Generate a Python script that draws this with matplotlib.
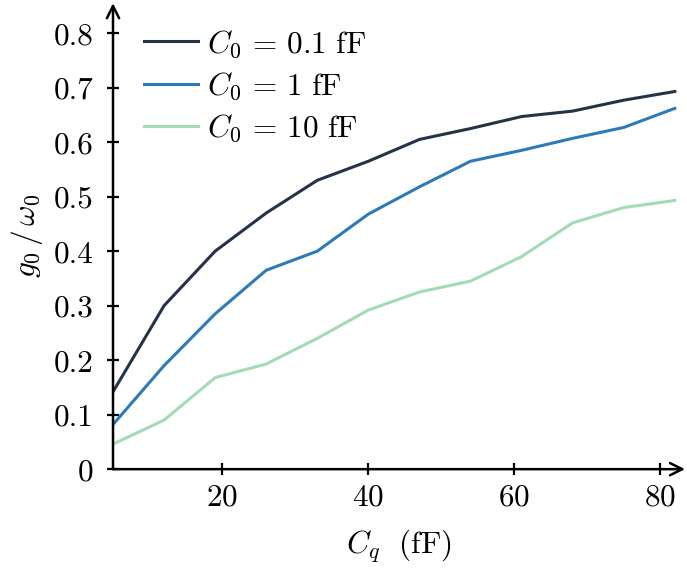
import numpy as np
import matplotlib
matplotlib.use('Agg')
import matplotlib.pyplot as plt

plt.rcParams['font.family'] = 'cmr10'
plt.rcParams['mathtext.fontset'] = 'cm'
plt.rcParams['axes.formatter.use_mathtext'] = True

# capacitance C_q (fF)
cq = [5, 12, 19, 26, 33, 40, 47, 54, 61, 68, 75, 82]

# g0 / w0 for each C_0
g_01 = [0.142, 0.300, 0.400, 0.470, 0.530, 0.565, 0.605, 0.625, 0.647, 0.657, 0.677, 0.693]
g_1 = [0.082, 0.190, 0.285, 0.365, 0.400, 0.468, 0.518, 0.565, 0.585, 0.607, 0.627, 0.662]
g_10 = [0.046, 0.090, 0.168, 0.193, 0.240, 0.292, 0.325, 0.345, 0.390, 0.452, 0.480, 0.493]

labels = [r'$C_0 \,=\, 0.1\ \mathrm{fF}$', r'$C_0 \,=\, 1\ \mathrm{fF}$',
          r'$C_0 \,=\, 10\ \mathrm{fF}$']
colors = ['#243345', '#2c7bb8', '#a3dbb5']

fig = plt.figure(figsize=(6.87, 5.68), dpi=100)
ax = fig.add_axes([0.1645, 0.174, 0.8326, 0.8204])

for y, lab, c in zip([g_01, g_1, g_10], labels, colors):
    ax.plot(cq, y, color=c, lw=2.2, label=lab, solid_joinstyle='round')

ax.set_xlim(5, 83.4)
ax.set_ylim(0, 0.855)

for s in ax.spines.values():
    s.set_visible(False)
# axes with arrow heads
ax.annotate('', xy=(1, 0), xytext=(0, 0), xycoords='axes fraction',
            arrowprops=dict(arrowstyle='->', lw=1.8, color='black',
                            mutation_scale=22, shrinkA=0, shrinkB=0))
ax.annotate('', xy=(0, 1), xytext=(0, 0), xycoords='axes fraction',
            arrowprops=dict(arrowstyle='->', lw=1.8, color='black',
                            mutation_scale=22, shrinkA=0, shrinkB=0))

ax.set_xticks([20, 40, 60, 80])
ax.set_yticks([0, 0.1, 0.2, 0.3, 0.4, 0.5, 0.6, 0.7, 0.8])
ax.set_yticklabels(['0', '0.1', '0.2', '0.3', '0.4', '0.5', '0.6', '0.7', '0.8'])
ax.tick_params(direction='inout', length=9, width=1.6, labelsize=22.5, pad=6)
ax.tick_params(axis='y', pad=9.5)

ax.set_xlabel(r'$C_q\ \ \mathrm{(fF)}$', fontsize=22.5, labelpad=11.5)
ax.set_ylabel(r'$g_0\,/\,\omega_0$', fontsize=22.5, labelpad=6)

ax.legend(loc='upper left', bbox_to_anchor=(0.021, 0.987), frameon=False,
          fontsize=22.5, handlelength=1.75, handletextpad=0.26,
          labelspacing=0.34, borderaxespad=0.2)

fig.savefig('out.png', dpi=100)
